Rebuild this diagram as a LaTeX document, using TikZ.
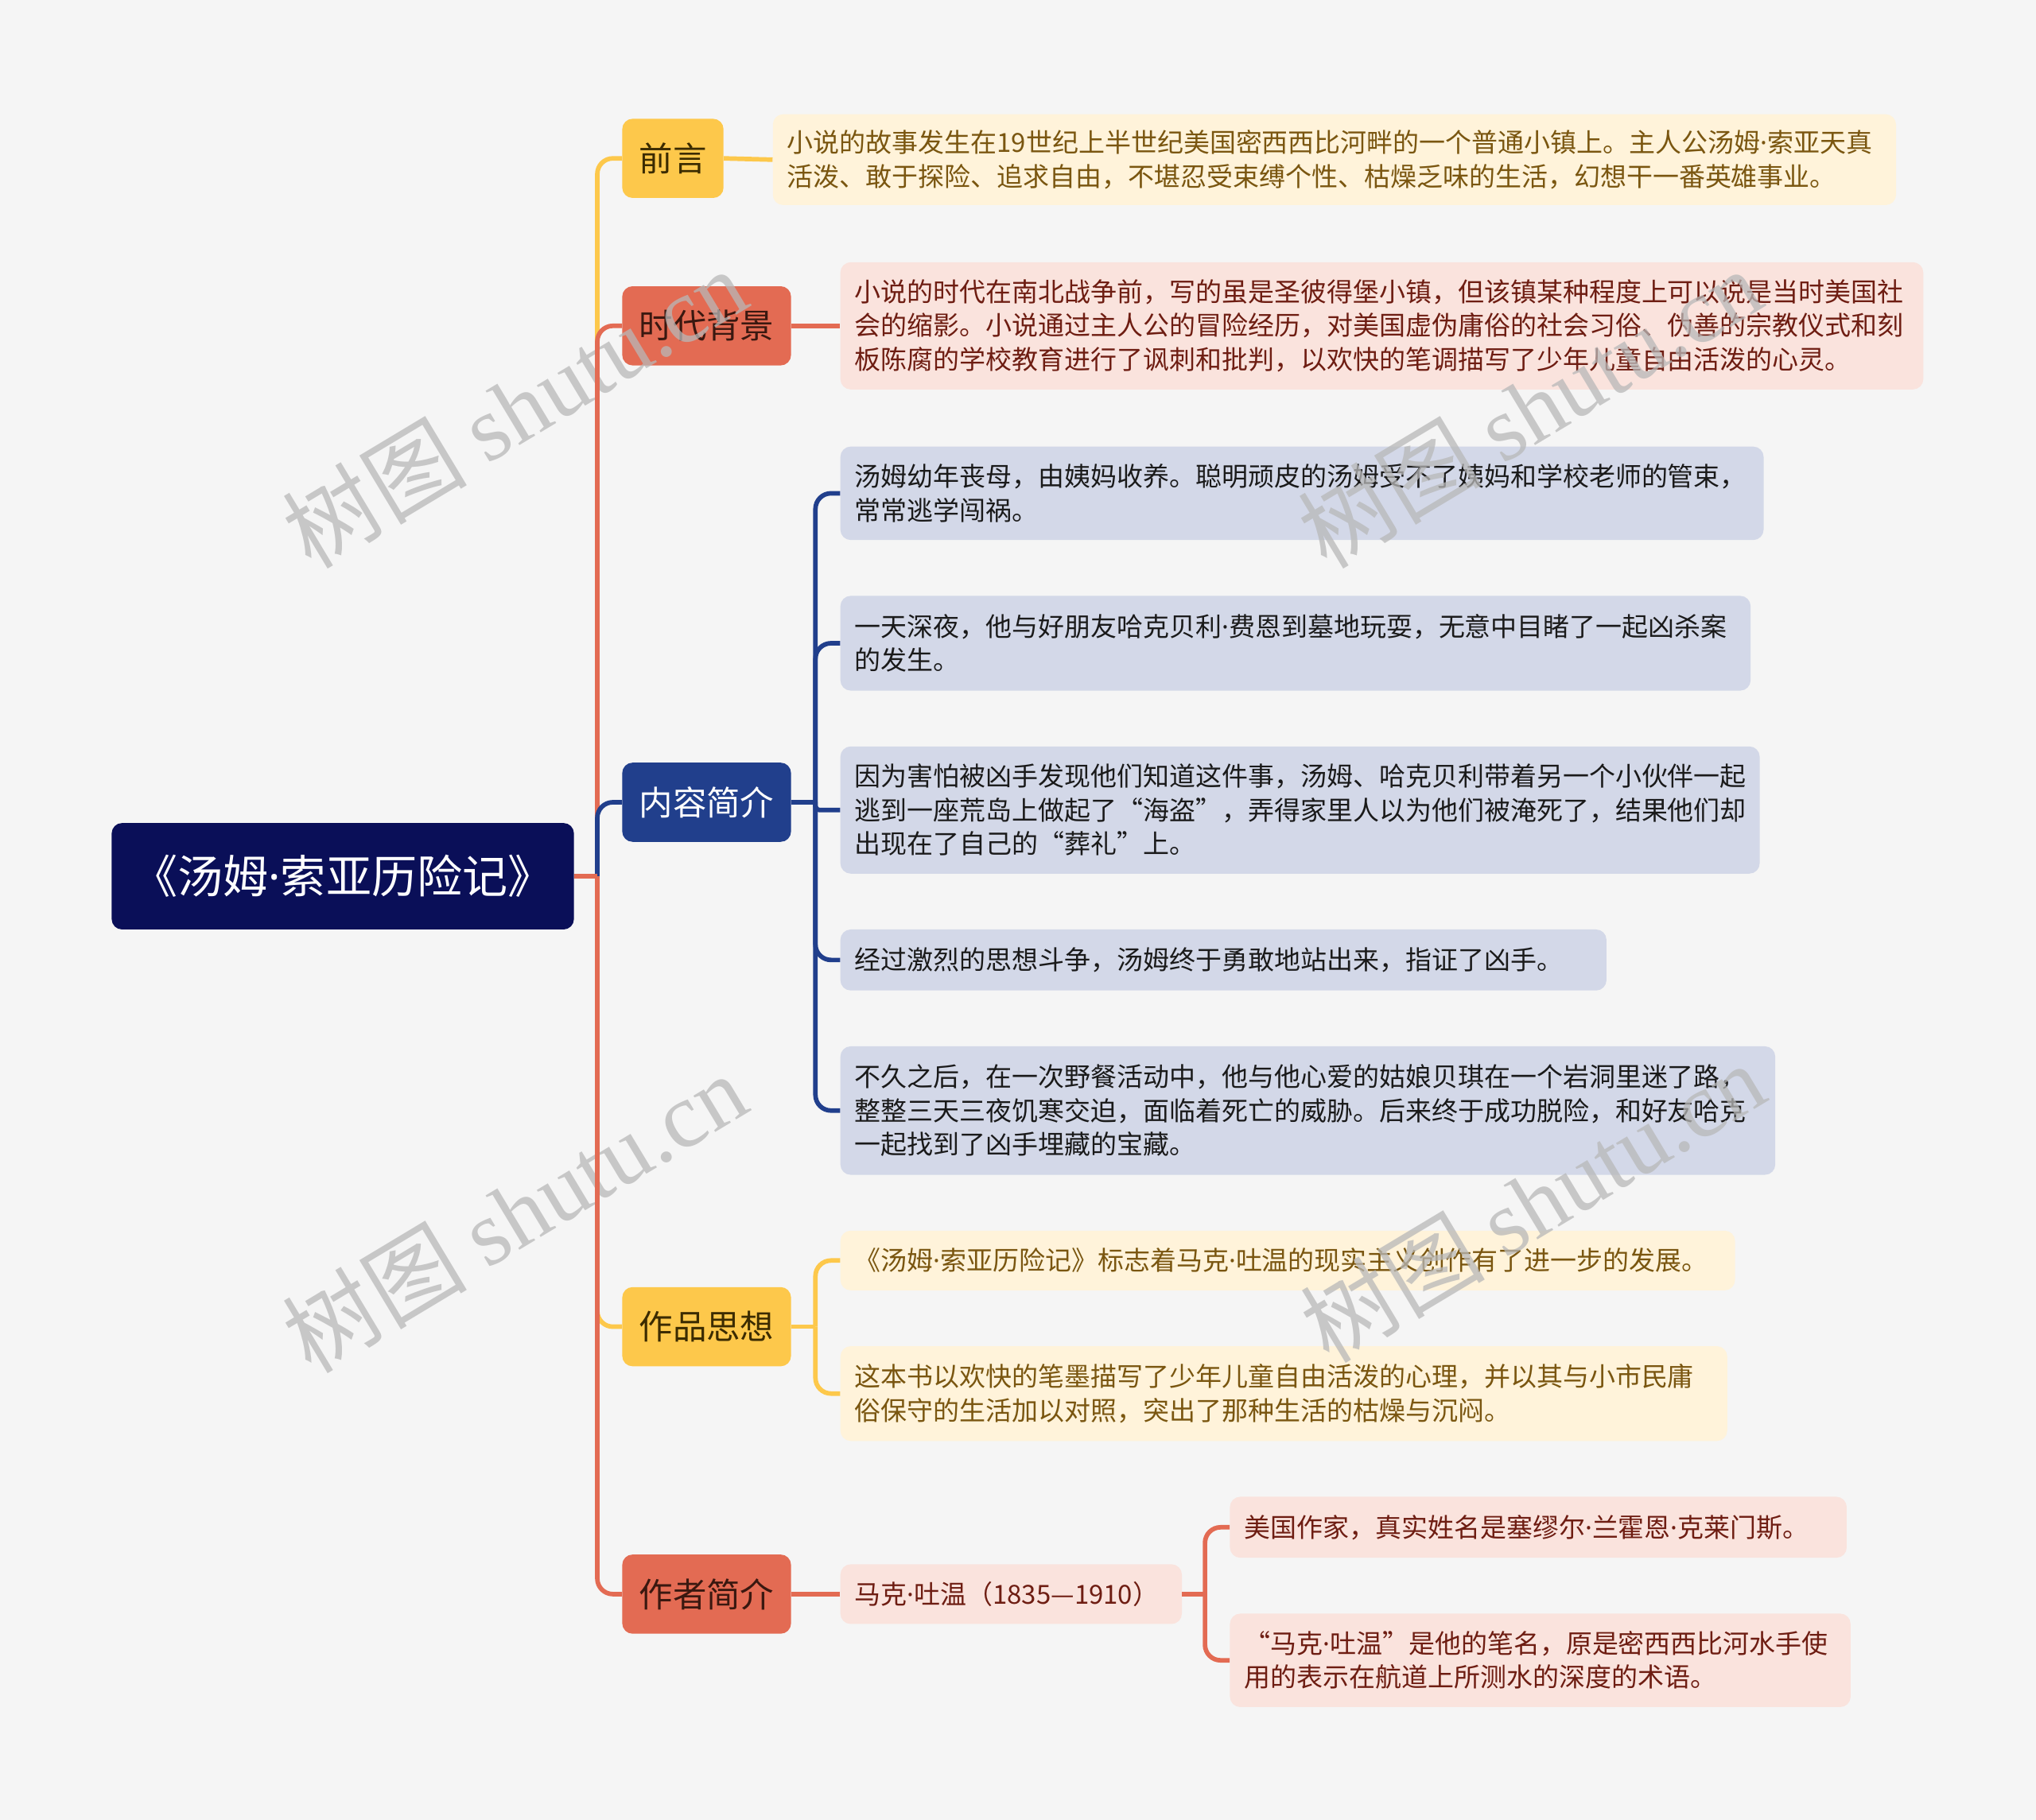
\documentclass[tikz,border=0pt]{standalone}
\usepackage{fontspec}
\setmainfont{Noto Sans CJK SC}
\newfontfamily\wmfont{Liberation Serif}
\newfontfamily\wmcjk{Noto Sans CJK SC}
\newfontfamily\latf{Noto Sans}
\newcommand{\mdt}{{\latf ·}}
\definecolor{bgc}{HTML}{F5F5F5}
\definecolor{rootc}{HTML}{0A0F58}
\definecolor{yelc}{HTML}{FDC84B}
\definecolor{yelL}{HTML}{FFF3DA}
\definecolor{yelT}{HTML}{7A5610}
\definecolor{yelM}{HTML}{3B2B00}
\definecolor{redc}{HTML}{E36B53}
\definecolor{redL}{HTML}{FAE3DD}
\definecolor{redT}{HTML}{6E1D12}
\definecolor{redM}{HTML}{3A1810}
\definecolor{navc}{HTML}{213F8C}
\definecolor{navL}{HTML}{D3D8E8}
\definecolor{navT}{HTML}{1A1A1A}
\definecolor{wmc}{HTML}{B8B8B8}
\tikzset{
  mainbox/.style={rounded corners=8, minimum height=61, inner xsep=13, inner ysep=0, anchor=west, font=\fontsize{26}{30}\selectfont},
  leafbox/.style={rounded corners=8, inner xsep=11, inner ysep=0, align=left, anchor=west, font=\fontsize{20.2}{26}\selectfont},
  conn/.style={line width=3.5, rounded corners=12},
  wmark/.style={text=wmc, text opacity=0.75, rotate=31, font=\fontsize{71}{80}\selectfont}
}
\begin{document}
\begin{tikzpicture}[x=1pt,y=-1pt]
\fill[bgc] (0,0) rectangle (1568,1402);
\useasboundingbox (0,0) rectangle (1568,1402);

% root
\node[rounded corners=8, fill=rootc, text=white, minimum width=356, minimum height=82, inner sep=0, font=\fontsize{35}{38}\selectfont] (root) at (264,675) {《汤姆\mdt 索亚历险记》};

% main nodes
\node[mainbox, fill=yelc, text=yelM] (qy) at (479,122) {前言};
\node[mainbox, fill=redc, text=redM] (bj) at (479,251) {时代背景};
\node[mainbox, fill=navc, text=white] (nr) at (479,618) {内容简介};
\node[mainbox, fill=yelc, text=yelM] (zp) at (479,1022) {作品思想};
\node[mainbox, fill=redc, text=redM] (zz) at (479,1228) {作者简介};

% leaves
\node[leafbox, fill=yelL, text=yelT, text width=843, minimum height=70] (l1) at (595,123) {小说的故事发生在19世纪上半世纪美国密西西比河畔的一个普通小镇上。主人公汤姆\mdt 索亚天真\\活泼、敢于探险、追求自由，不堪忍受束缚个性、枯燥乏味的生活，幻想干一番英雄事业。};
\node[leafbox, fill=redL, text=redT, text width=812, minimum height=98] (l2) at (647,251) {小说的时代在南北战争前，写的虽是圣彼得堡小镇，但该镇某种程度上可以说是当时美国社\\会的缩影。小说通过主人公的冒险经历，对美国虚伪庸俗的社会习俗、伪善的宗教仪式和刻\\板陈腐的学校教育进行了讽刺和批判，以欢快的笔调描写了少年儿童自由活泼的心灵。};

\node[leafbox, fill=navL, text=navT, text width=689, minimum height=72] (c1) at (647,380) {汤姆幼年丧母，由姨妈收养。聪明顽皮的汤姆受不了姨妈和学校老师的管束，\\常常逃学闯祸。};
\node[leafbox, fill=navL, text=navT, text width=679, minimum height=73] (c2) at (647,495.5) {一天深夜，他与好朋友哈克贝利\mdt 费恩到墓地玩耍，无意中目睹了一起凶杀案\\的发生。};
\node[leafbox, fill=navL, text=navT, text width=686, minimum height=98] (c3) at (647,624) {因为害怕被凶手发现他们知道这件事，汤姆、哈克贝利带着另一个小伙伴一起\\逃到一座荒岛上做起了“海盗”，弄得家里人以为他们被淹死了，结果他们却\\出现在了自己的“葬礼”上。};
\node[leafbox, fill=navL, text=navT, text width=568, minimum height=47] (c4) at (647,739.5) {经过激烈的思想斗争，汤姆终于勇敢地站出来，指证了凶手。};
\node[leafbox, fill=navL, text=navT, text width=698, minimum height=99] (c5) at (647,855.5) {不久之后，在一次野餐活动中，他与他心爱的姑娘贝琪在一个岩洞里迷了路，\\整整三天三夜饥寒交迫，面临着死亡的威胁。后来终于成功脱险，和好友哈克\\一起找到了凶手埋藏的宝藏。};

\node[leafbox, fill=yelL, text=yelT, text width=667, minimum height=46] (t1) at (647,971) {《汤姆\mdt 索亚历险记》标志着马克\mdt 吐温的现实主义创作有了进一步的发展。};
\node[leafbox, fill=yelL, text=yelT, text width=661, minimum height=73] (t2) at (647,1073.5) {这本书以欢快的笔墨描写了少年儿童自由活泼的心理，并以其与小市民庸\\俗保守的生活加以对照，突出了那种生活的枯燥与沉闷。};

\node[leafbox, fill=redL, text=redT, text width=241, minimum height=46] (a0) at (647,1228) {马克\mdt 吐温（1835—1910）};
\node[leafbox, fill=redL, text=redT, text width=453, minimum height=47] (a1) at (947,1176.5) {美国作家，真实姓名是塞缪尔\mdt 兰霍恩\mdt 克莱门斯。};
\node[leafbox, fill=redL, text=redT, text width=456, minimum height=72] (a2) at (947,1279) {“马克\mdt 吐温”是他的笔名，原是密西西比河水手使\\用的表示在航道上所测水的深度的术语。};

% junctions
\coordinate (J) at (460,675);
\coordinate (K) at (628,618);
\coordinate (K2) at (628,1022);
\coordinate (K3) at (928,1228);

% watermarks
\node[wmark] (w1) at (396,314) {{\wmcjk 树图} {\wmfont shutu.cn}};
\node[wmark] (w2) at (1178,314) {{\wmcjk 树图} {\wmfont shutu.cn}};
\node[wmark] (w3) at (396,934) {{\wmcjk 树图} {\wmfont shutu.cn}};
\node[wmark] (w4) at (1180,926) {{\wmcjk 树图} {\wmfont shutu.cn}};

% trunk connectors
\draw[conn, yelc] (J) -- (J |- qy.west) -- (qy.west);
\draw[conn, redc] (J) -- (J |- bj.west) -- (bj.west);
\draw[conn, navc] (J) -- (J |- nr.west) -- (nr.west);
\draw[conn, yelc] (J) -- (J |- zp.west) -- (zp.west);
\draw[conn, redc] (J) -- (J |- zz.west) -- (zz.west);
\draw[conn, redc] (root.east) -- (J);

% leaf connectors
\draw[conn, yelc] (qy.east) -- (l1.west);
\draw[conn, redc] (bj.east) -- (l2.west);

\draw[conn, navc] (nr.east) -- (K);
\draw[conn, navc] (K) -- (K |- c1.west) -- (c1.west);
\draw[conn, navc] (K) -- (K |- c2.west) -- (c2.west);
\draw[conn, navc, rounded corners=3] (K) -- (K |- c3.west) -- (c3.west);
\draw[conn, navc] (K) -- (K |- c4.west) -- (c4.west);
\draw[conn, navc] (K) -- (K |- c5.west) -- (c5.west);

\draw[conn, yelc] (zp.east) -- (K2);
\draw[conn, yelc] (K2) -- (K2 |- t1.west) -- (t1.west);
\draw[conn, yelc] (K2) -- (K2 |- t2.west) -- (t2.west);

\draw[conn, redc] (zz.east) -- (a0.west);
\draw[conn, redc] (a0.east) -- (K3);
\draw[conn, redc] (K3) -- (K3 |- a1.west) -- (a1.west);
\draw[conn, redc] (K3) -- (K3 |- a2.west) -- (a2.west);
\end{tikzpicture}
\end{document}
